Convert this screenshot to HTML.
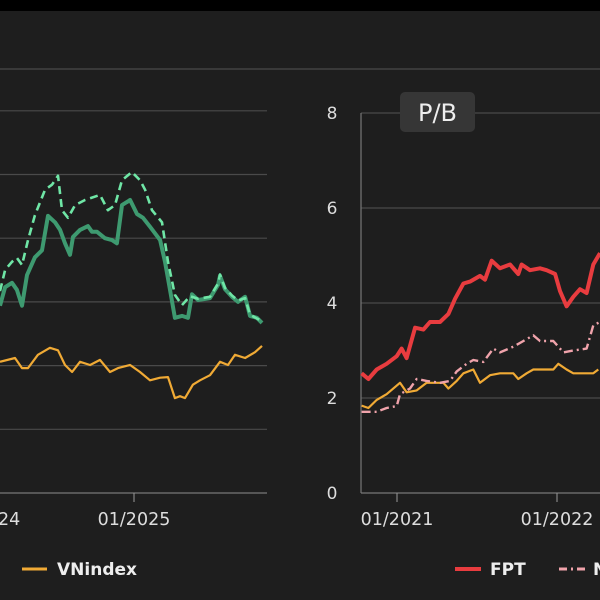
<!DOCTYPE html>
<html><head><meta charset="utf-8"><style>
html,body{margin:0;padding:0;background:#1e1e1e;}
svg{display:block;}
text{font-family:"DejaVu Sans","Liberation Sans",sans-serif;}
</style></head><body>
<svg id="c" width="600" height="600" viewBox="0 0 600 600">
<rect x="0" y="0" width="600" height="600" fill="#1e1e1e"/>
<rect x="0" y="0" width="600" height="11" fill="#000"/>
<line x1="0" y1="69" x2="600" y2="69" stroke="#4a4a4a" stroke-width="1.2"/>
<g id="left"></g>
<g id="right"></g>
</svg>
<script>
// ---- Left chart data (t = years offset from 01/2025) ----
const leftSolidT=[-0.848,-0.816,-0.772,-0.741,-0.709,-0.677,-0.627,-0.582,-0.544,-0.500,-0.468,-0.437,-0.405,-0.386,-0.342,-0.291,-0.266,-0.234,-0.184,-0.139,-0.108,-0.076,-0.025,0.019,0.057,0.101,0.165,0.196,0.228,0.259,0.304,0.342,0.367,0.405,0.481,0.532,0.544,0.576,0.620,0.658,0.703,0.734,0.778,0.810];
const leftSolidV=[2.94,3.23,3.30,3.19,2.94,3.42,3.70,3.81,4.35,4.25,4.13,3.92,3.74,4.02,4.13,4.19,4.10,4.10,4.00,3.97,3.92,4.52,4.60,4.38,4.32,4.18,3.97,3.63,3.19,2.75,2.78,2.75,3.12,3.03,3.06,3.27,3.41,3.20,3.08,3.00,3.08,2.78,2.75,2.67];
const leftDashT=[-0.848,-0.816,-0.772,-0.741,-0.709,-0.671,-0.627,-0.563,-0.519,-0.481,-0.456,-0.418,-0.373,-0.310,-0.215,-0.165,-0.120,-0.076,-0.013,0.038,0.070,0.114,0.177,0.215,0.259,0.304,0.354,0.405,0.481,0.532,0.544,0.576,0.620,0.658,0.703,0.734,0.778,0.810];
const leftDashV=[3.17,3.50,3.63,3.69,3.58,3.97,4.36,4.76,4.84,4.98,4.44,4.32,4.52,4.60,4.68,4.44,4.52,4.91,5.04,4.91,4.76,4.44,4.25,3.63,3.11,2.95,3.09,3.05,3.08,3.29,3.43,3.22,3.10,3.02,3.06,2.80,2.74,2.70];
const leftIdxT=[-0.848,-0.753,-0.709,-0.671,-0.608,-0.532,-0.481,-0.437,-0.392,-0.342,-0.278,-0.215,-0.152,-0.101,-0.025,0.038,0.101,0.165,0.215,0.259,0.291,0.323,0.373,0.418,0.481,0.544,0.595,0.639,0.703,0.766,0.810];
const leftIdxV=[2.06,2.12,1.96,1.96,2.17,2.28,2.24,2.01,1.90,2.06,2.01,2.09,1.90,1.96,2.01,1.90,1.77,1.81,1.82,1.49,1.52,1.49,1.70,1.77,1.85,2.06,2.01,2.17,2.12,2.21,2.31];
const leftGrid=[0,1,2,3,4,5,6];
const leftTickT=[-0.95,0];
const leftTickLabels=["01/2024","01/2025"];
// ---- Right chart (P/B) data (t = years offset from 01/2021) ----
const rFptT=[-0.221,-0.179,-0.127,-0.065,-0.002,0.029,0.060,0.113,0.165,0.206,0.269,0.321,0.363,0.415,0.456,0.519,0.550,0.592,0.644,0.706,0.758,0.779,0.831,0.894,0.935,0.988,1.019,1.060,1.102,1.144,1.185,1.227,1.269];
const rFptV=[2.52,2.40,2.60,2.72,2.88,3.04,2.84,3.48,3.44,3.60,3.60,3.77,4.09,4.41,4.45,4.57,4.49,4.89,4.73,4.81,4.61,4.81,4.69,4.73,4.69,4.61,4.25,3.93,4.13,4.29,4.21,4.81,5.05];
const rPeerT=[-0.221,-0.127,-0.065,-0.002,0.019,0.081,0.123,0.185,0.269,0.331,0.373,0.435,0.477,0.540,0.602,0.644,0.727,0.790,0.852,0.894,0.977,1.040,1.102,1.185,1.227,1.269];
const rPeerV=[1.71,1.71,1.79,1.83,2.08,2.20,2.40,2.36,2.32,2.36,2.56,2.72,2.80,2.76,3.04,2.96,3.08,3.20,3.32,3.20,3.20,2.96,3.00,3.04,3.53,3.60];
const rIdxT=[-0.221,-0.179,-0.127,-0.065,0.019,0.060,0.123,0.185,0.290,0.321,0.373,0.415,0.477,0.519,0.581,0.644,0.727,0.758,0.810,0.852,0.977,1.008,1.060,1.102,1.227,1.258];
const rIdxV=[1.84,1.79,1.96,2.08,2.32,2.12,2.16,2.32,2.32,2.20,2.36,2.52,2.60,2.32,2.48,2.52,2.52,2.40,2.52,2.60,2.60,2.72,2.60,2.52,2.52,2.60];
const rGrid=[0,2,4,6,8];
const rTickT=[0,1];
const rTickLabels=["01/2021","01/2022"];

const NS="http://www.w3.org/2000/svg";
function mk(parent,tag,attrs){const e=document.createElementNS(NS,tag);for(const k in attrs)e.setAttribute(k,attrs[k]);parent.appendChild(e);return e;}
const lx=t=>134+t*158, ly=v=>493-v*63.7;
const rx=t=>397+t*160, ry=v=>493-v*47.5;
function path(xs,ys,fx,fy){return xs.map((t,i)=>(i?"L":"M")+fx(t).toFixed(1)+","+fy(ys[i]).toFixed(1)).join("");}

const L=document.getElementById('left');
leftGrid.forEach(v=>{
  const g=mk(L,'line',{x1:0,x2:267,y1:ly(v),y2:ly(v),stroke:v===0?'#777':'#4a4a4a','stroke-width':1.2});
  
  
});
leftTickT.forEach((t,i)=>{
  const tk=mk(L,'line',{x1:lx(t),x2:lx(t),y1:493,y2:502,stroke:'#999','stroke-width':1});
  
  
  const tx=mk(L,'text',{x:lx(t),y:525,fill:'#ddd','font-size':17.5,'text-anchor':'middle'});
  tx.textContent=leftTickLabels[i];
  
  
});
const l1=mk(L,'path',{d:path(leftIdxT,leftIdxV,lx,ly),fill:'none',stroke:'#f0aa35','stroke-width':2.2,'stroke-linejoin':'round'});


const l2=mk(L,'path',{d:path(leftSolidT,leftSolidV,lx,ly),fill:'none',stroke:'#3e9a70','stroke-width':4,'stroke-linejoin':'round'});


const l3=mk(L,'path',{d:path(leftDashT,leftDashV,lx,ly),fill:'none',stroke:'#6fe6a6','stroke-width':2.6,'stroke-dasharray':'8,5','stroke-linejoin':'round'});


const lg1=mk(L,'line',{x1:22,x2:47,y1:569,y2:569,stroke:'#f0aa35','stroke-width':3});


const lg1t=mk(L,'text',{x:57,y:575,fill:'#eee','font-size':17,'font-weight':'bold'});
lg1t.textContent='VNindex';



const R=document.getElementById('right');
rGrid.forEach(v=>{
  const g=mk(R,'line',{x1:361,x2:600,y1:ry(v),y2:ry(v),stroke:v===0?'#777':'#4a4a4a','stroke-width':1.2});
  
  
  const t=mk(R,'text',{x:332,y:ry(v)+6,fill:'#ddd','font-size':17,'text-anchor':'middle'});
  t.textContent=String(v);
  
  
});
const ya=mk(R,'line',{x1:361,x2:361,y1:ry(8),y2:493,stroke:'#777','stroke-width':1.2});


rTickT.forEach((t,i)=>{
  const tk=mk(R,'line',{x1:rx(t),x2:rx(t),y1:493,y2:502,stroke:'#999','stroke-width':1});
  
  
  const tx=mk(R,'text',{x:rx(t),y:525,fill:'#ddd','font-size':17.5,'text-anchor':'middle'});
  tx.textContent=rTickLabels[i];
  
  
});
const r1=mk(R,'path',{d:path(rIdxT,rIdxV,rx,ry),fill:'none',stroke:'#f0aa35','stroke-width':2.2,'stroke-linejoin':'round'});


const r2=mk(R,'path',{d:path(rPeerT,rPeerV,rx,ry),fill:'none',stroke:'#f0a3ab','stroke-width':2.4,'stroke-dasharray':'9,4,2,4','stroke-linejoin':'round'});


const r3=mk(R,'path',{d:path(rFptT,rFptV,rx,ry),fill:'none',stroke:'#e83c3f','stroke-width':4,'stroke-linejoin':'round'});


const box=mk(R,'rect',{x:400,y:92,width:75,height:40,rx:5,fill:'#363636'});


const bt=mk(R,'text',{x:437.5,y:121,fill:'#eee','font-size':24,'text-anchor':'middle'});
bt.textContent='P/B';


const lf=mk(R,'line',{x1:455,x2:481,y1:569,y2:569,stroke:'#e83c3f','stroke-width':4});


const lft=mk(R,'text',{x:490,y:575,fill:'#eee','font-size':17,'font-weight':'bold'});
lft.textContent='FPT';


const lp=mk(R,'line',{x1:559,x2:586,y1:569,y2:569,stroke:'#f0a3ab','stroke-width':3,'stroke-dasharray':'8,4,2,4'});


const lpt=mk(R,'text',{x:593,y:575,fill:'#eee','font-size':17,'font-weight':'bold'});
lpt.textContent='N';


</script>
</body></html>
